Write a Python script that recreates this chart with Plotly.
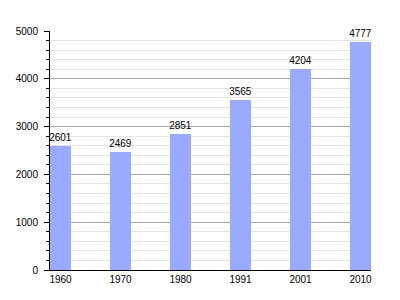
import plotly.graph_objects as go

years = ["1960", "1970", "1980", "1991", "2001", "2010"]
population = [2601, 2469, 2851, 3565, 4204, 4777]

fig = go.Figure(go.Bar(
    x=years, y=population,
    marker=dict(color="#99aaff", line=dict(width=0)),
    width=0.35,
    text=[str(v) for v in population],
    textposition="outside",
    constraintext="none",
    textfont=dict(family="Liberation Sans, Arial", size=10, color="black"),
    cliponaxis=False,
))

fig.update_layout(
    width=400, height=300,
    margin=dict(l=50, r=29, t=31, b=30),
    paper_bgcolor="white", plot_bgcolor="white",
    font=dict(family="Liberation Sans, Arial", size=10, color="black"),
    showlegend=False,
    bargap=0,
    uniformtext=dict(mode=False),
)
fig.update_xaxes(
    type="category",
    range=[-0.175, 5.175],
    showline=True, linecolor="black", linewidth=1,
    ticks="", showgrid=False,
    tickfont=dict(size=10),
)
fig.update_yaxes(
    range=[0, 5000], dtick=1000,
    showline=True, linecolor="black", linewidth=1,
    ticks="outside", ticklen=5, tickcolor="black",
    showgrid=True, gridcolor="#a8a8a8", gridwidth=1,
    zeroline=False,
    ticklabelstandoff=4,
    minor=dict(dtick=200, showgrid=True, gridcolor="#e4e4e4",
               ticks="outside", ticklen=3, tickcolor="black"),
    tickfont=dict(size=10),
)

fig.write_html("out.html")
